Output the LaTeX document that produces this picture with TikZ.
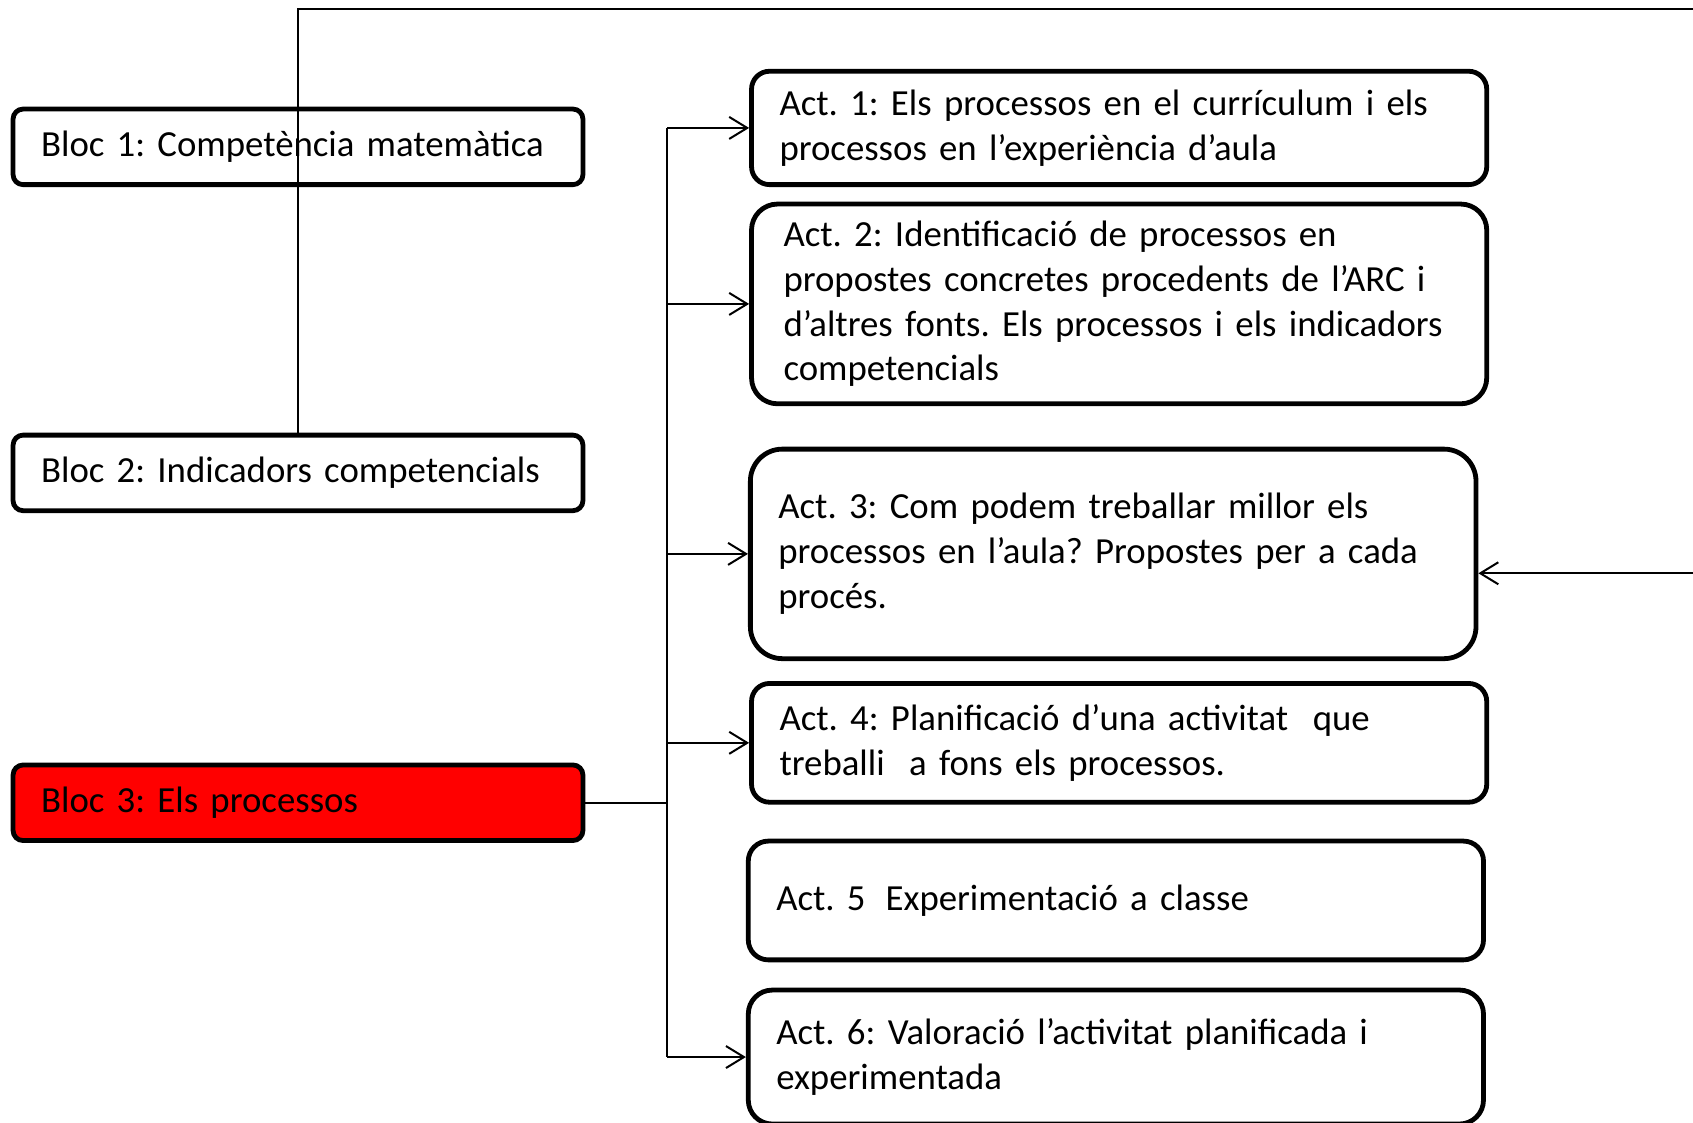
\documentclass[tikz,border=0pt]{standalone}
\usepackage{fontspec}
\setmainfont{Carlito}
\usetikzlibrary{arrows.meta}

\begin{document}
\begin{tikzpicture}[x=0.54pt, y=-0.54pt,
    >={Straight Barb[length=9pt,width=11pt]},
    box/.style={draw, line width=2.4pt, align=left, inner xsep=14pt, inner ysep=0pt,
      font=\fontsize{18.4pt}{22.4pt}\selectfont\frenchspacing},
    bloc/.style={box, rounded corners=5pt, text width=257pt, minimum height=37.8pt},
    act/.style={box, text width=339.7pt},
    link/.style={line width=1pt}]
  \useasboundingbox (0,0) rectangle (1568,1040);
  \node[bloc] (b1) at (276,136) {Bloc 1: Competència matemàtica};
  \node[bloc] (b2) at (276,438) {Bloc 2: Indicadors competencials};
  \node[bloc, fill=red] (b3) at (276,743.5) {Bloc 3: Els processos};
  \node[act, rounded corners=9pt, minimum height=56.7pt] (a1) at (1036.5,118.5)
    {Act. 1: Els processos en el currículum i els\\processos en l’experiència d’aula};
  \node[act, rounded corners=13pt, minimum height=99.9pt, inner xsep=16pt, text width=335.7pt] (a2) at (1036.5,281.5)
    {Act. 2: Identificació de processos en\\propostes concretes procedents de l’ARC i\\d’altres fonts. Els processos i els indicadors\\competencials};
  \node[act, rounded corners=16pt, minimum height=104.8pt, text width=334.9pt] (a3) at (1031,513)
    {Act. 3: Com podem treballar millor els\\processos en l’aula? Propostes per a cada\\procés.};
  \node[act, rounded corners=9pt, minimum height=59.4pt] (a4) at (1036.5,688)
    {Act. 4: Planificació d’una activitat\ \ que\\treballi\ \ a fons els processos.};
  \node[act, rounded corners=10pt, minimum height=59.4pt] (a5) at (1033.5,834)
    {Act. 5\hspace{10pt}Experimentació a classe};
  \node[act, rounded corners=12pt, minimum height=67pt] (a6) at (1033.5,979)
    {Act. 6: Valoració l’activitat planificada i\\experimentada};
  % feedback from bloc 2
  \coordinate (tr) at (1600,8);
  \draw[link,->] (b2.north) |- (tr) |- ([yshift=-9.7pt]a3.east);
  % bloc 3 to activities
  \draw[link] (b3.east) -- (618,743.5) coordinate (bus);
  \draw[link] (618,118.5) -- (618,979);
  \foreach \a in {a1,a2,a3,a4,a6}
    \draw[link,->] (bus |- \a.west) -- (\a.west);
\end{tikzpicture}
\end{document}
